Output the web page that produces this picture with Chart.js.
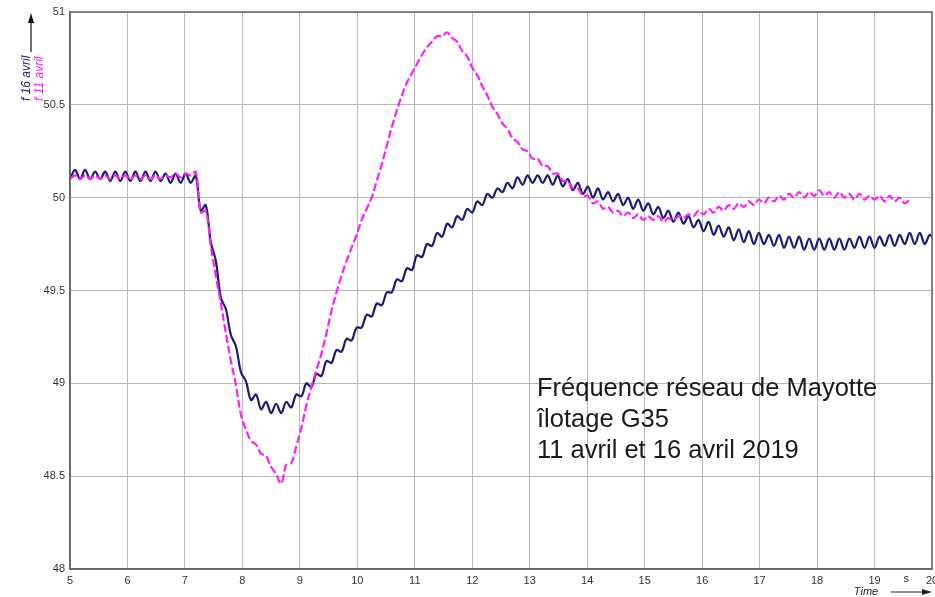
<!DOCTYPE html>
<html>
<head>
<meta charset="utf-8">
<script src="https://cdn.jsdelivr.net/npm/chart.js@4.4.1/dist/chart.umd.min.js"></script>
<style>
  html, body { margin: 0; padding: 0; background: #fff; }
  #wrap { width: 935px; height: 597px; position: relative; }
</style>
</head>
<body>
<div id="wrap"><canvas id="freqChart" width="935" height="597"></canvas></div>
<script>
// sampling of the recordings (s)
var tStart = 5;
var tStep = 0.0875;

// f 16 avril (Hz), one row = 0.7 s
var f16avril = [
  50.10,50.15,50.10,50.15,50.10,50.14,50.10,50.14,
  50.09,50.14,50.09,50.14,50.09,50.14,50.09,50.14,
  50.09,50.14,50.09,50.13,50.08,50.13,50.08,50.13,
  50.08,50.12,49.93,49.96,49.76,49.66,49.46,49.40,
  49.26,49.20,49.06,49.01,48.91,48.94,48.86,48.90,
  48.84,48.89,48.84,48.90,48.87,48.94,48.93,49.00,
  48.98,49.05,49.04,49.12,49.11,49.18,49.17,49.24,
  49.23,49.30,49.30,49.37,49.36,49.43,49.42,49.49,
  49.49,49.56,49.55,49.62,49.61,49.69,49.68,49.75,
  49.74,49.81,49.79,49.86,49.84,49.90,49.88,49.94,
  49.92,49.98,49.96,50.02,50.00,50.05,50.03,50.08,
  50.05,50.11,50.07,50.12,50.08,50.12,50.08,50.12,
  50.07,50.12,50.06,50.10,50.04,50.08,50.02,50.06,
  50.00,50.05,49.99,50.03,49.98,50.02,49.96,50.00,
  49.94,49.99,49.93,49.97,49.91,49.95,49.89,49.93,
  49.87,49.92,49.86,49.90,49.84,49.88,49.82,49.87,
  49.80,49.85,49.79,49.84,49.77,49.83,49.76,49.82,
  49.75,49.81,49.75,49.80,49.74,49.80,49.73,49.79,
  49.73,49.79,49.72,49.78,49.72,49.78,49.72,49.78,
  49.72,49.78,49.72,49.78,49.73,49.79,49.73,49.79,
  49.73,49.79,49.74,49.80,49.74,49.80,49.75,49.81,
  49.75,49.81,49.75,49.80,49.76
];

// f 11 avril (Hz)
var f11avril = [
  50.10,50.12,50.10,50.12,50.10,50.12,50.10,50.12,
  50.10,50.12,50.10,50.12,50.10,50.12,50.10,50.12,
  50.10,50.12,50.10,50.12,50.11,50.13,50.11,50.13,
  50.12,50.14,49.92,49.93,49.74,49.58,49.43,49.27,
  49.12,48.99,48.83,48.75,48.69,48.67,48.62,48.61,
  48.55,48.51,48.46,48.56,48.57,48.66,48.76,48.88,
  48.98,49.07,49.16,49.27,49.39,49.49,49.58,49.66,
  49.73,49.80,49.88,49.94,50.00,50.09,50.18,50.28,
  50.38,50.47,50.55,50.62,50.67,50.72,50.77,50.81,
  50.84,50.87,50.87,50.89,50.86,50.84,50.79,50.76,
  50.70,50.66,50.60,50.55,50.49,50.45,50.40,50.37,
  50.32,50.30,50.26,50.25,50.21,50.21,50.17,50.17,
  50.13,50.13,50.09,50.09,50.05,50.05,50.01,50.01,
  49.97,49.98,49.94,49.95,49.92,49.93,49.90,49.92,
  49.89,49.91,49.88,49.90,49.88,49.90,49.87,49.89,
  49.88,49.90,49.89,49.91,49.90,49.93,49.91,49.94,
  49.92,49.95,49.93,49.96,49.94,49.97,49.95,49.98,
  49.96,49.99,49.97,50.00,49.98,50.01,49.99,50.02,
  50.00,50.03,50.00,50.03,50.01,50.04,50.01,50.03,
  50.00,50.03,50.00,50.02,49.99,50.02,49.99,50.01,
  49.99,50.01,49.98,50.01,49.98,50.00,49.97,49.99
];

var annotationLines = ['Fréquence réseau de Mayotte', 'îlotage G35', '11 avril et 16 avril 2019'];

function toPoints(values) {
  var pts = [];
  for (var i = 0; i < values.length; i++) {
    pts.push({ x: +(tStart + i * tStep).toFixed(4), y: values[i] });
  }
  return pts;
}

var navy = '#1c1c78';
var magenta = '#ff1cff';

var decorations = {
  id: 'decorations',
  afterDraw: function(chart) {
    var ctx = chart.ctx;
    var a = chart.chartArea;
    var xs = chart.scales.x;
    ctx.save();
    // frame
    ctx.strokeStyle = '#666';
    ctx.lineWidth = 1.5;
    ctx.strokeRect(a.left, a.top, a.right - a.left, a.bottom - a.top);

    // y axis title with arrow
    ctx.strokeStyle = '#111';
    ctx.fillStyle = '#111';
    ctx.lineWidth = 1.2;
    ctx.beginPath();
    ctx.moveTo(31, 52);
    ctx.lineTo(31, 20);
    ctx.stroke();
    ctx.beginPath();
    ctx.moveTo(31, 13);
    ctx.lineTo(28, 23);
    ctx.lineTo(34, 23);
    ctx.closePath();
    ctx.fill();

    ctx.font = 'italic 12px "Liberation Sans", Arial, sans-serif';
    ctx.textAlign = 'left';
    ctx.textBaseline = 'middle';
    ctx.save();
    ctx.translate(27, 101);
    ctx.rotate(-Math.PI / 2);
    ctx.fillStyle = navy;
    ctx.fillText('f 16 avril', 0, 0);
    ctx.restore();
    ctx.save();
    ctx.translate(40, 101);
    ctx.rotate(-Math.PI / 2);
    ctx.fillStyle = magenta;
    ctx.fillText('f 11 avril', 0, 0);
    ctx.restore();

    // x axis unit and title
    ctx.fillStyle = '#333';
    ctx.font = '11px "Liberation Sans", Arial, sans-serif';
    ctx.textAlign = 'center';
    ctx.fillText('s', xs.getPixelForValue(19.55), 579);
    ctx.font = 'italic 11px "Liberation Sans", Arial, sans-serif';
    ctx.fillStyle = '#222';
    ctx.fillText('Time', 866, 592);
    ctx.strokeStyle = '#222';
    ctx.beginPath();
    ctx.moveTo(891, 592);
    ctx.lineTo(924, 592);
    ctx.stroke();
    ctx.beginPath();
    ctx.moveTo(932, 592);
    ctx.lineTo(922, 589);
    ctx.lineTo(922, 595);
    ctx.closePath();
    ctx.fill();

    // annotation
    ctx.fillStyle = '#1a1a1a';
    ctx.font = '25.5px "Liberation Sans", Arial, sans-serif';
    ctx.textAlign = 'left';
    ctx.textBaseline = 'alphabetic';
    for (var i = 0; i < annotationLines.length; i++) {
      ctx.fillText(annotationLines[i], 537, 396 + i * 31);
    }
    ctx.restore();
  }
};

var ctx = document.getElementById('freqChart');
var myChart = new Chart(ctx, {
  type: 'line',
  data: {
    datasets: [
      {
        label: 'f 11 avril',
        data: toPoints(f11avril),
        borderColor: magenta,
        borderWidth: 2.2,
        borderDash: [8, 3],
        pointRadius: 0,
        tension: 0.35,
        fill: false
      },
      {
        label: 'f 16 avril',
        data: toPoints(f16avril),
        borderColor: navy,
        borderWidth: 2.2,
        pointRadius: 0,
        tension: 0.35,
        fill: false
      }
    ]
  },
  options: {
    responsive: false,
    animation: false,
    layout: { padding: { top: 12, right: 3, left: 0, bottom: 0 } },
    plugins: {
      legend: { display: false },
      tooltip: { enabled: false }
    },
    scales: {
      x: {
        type: 'linear',
        min: 5,
        max: 20,
        ticks: {
          stepSize: 1,
          color: '#333',
          padding: 5,
          maxRotation: 0,
          font: { family: '"Liberation Sans", Arial, sans-serif', size: 11 }
        },
        grid: { color: '#b8b8b8', lineWidth: 1, drawTicks: false },
        border: { color: '#666', width: 1.5 },
        afterFit: function(scale) {
          scale.height = 28;
          scale.paddingLeft = 0;
          scale.paddingRight = 0;
        }
      },
      y: {
        min: 48,
        max: 51,
        ticks: {
          stepSize: 0.5,
          color: '#333',
          padding: 5,
          font: { family: '"Liberation Sans", Arial, sans-serif', size: 11 },
          callback: function(value) {
            return String(+value.toFixed(1));
          }
        },
        grid: { color: '#b8b8b8', lineWidth: 1, drawTicks: false },
        border: { color: '#666', width: 1.5 },
        afterFit: function(scale) {
          scale.width = 70;
          scale.paddingTop = 0;
          scale.paddingBottom = 0;
        }
      }
    }
  },
  plugins: [decorations]
});
</script>
</body>
</html>
